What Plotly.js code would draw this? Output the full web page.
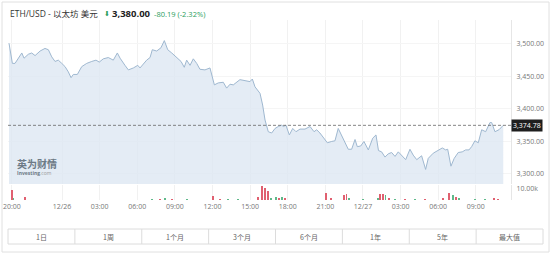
<!DOCTYPE html>
<html><head><meta charset="utf-8">
<script src="https://cdn.plot.ly/plotly-3.0.1.min.js"></script>
<style>html,body{margin:0;padding:0;background:#fff;}#chart{width:552px;height:257px;}</style>
</head><body><div id="chart"></div>
<script>
// hours relative to 2024-12-26 00:00
const priceHours = [-4.23,-3.96,-3.75,-3.48,-3.21,-3.03,-2.69,-2.42,-2.15,-1.75,-1.36,-1.09,-0.82,-0.56,-0.30,-0.02,0.24,0.50,0.72,0.90,1.22,1.57,1.97,2.37,2.71,2.97,3.29,3.69,4.09,4.41,4.63,5.02,5.29,5.69,6.04,6.22,6.48,6.75,7.02,7.20,7.55,7.89,8.16,8.43,8.75,9.15,9.49,9.75,9.94,10.21,10.47,10.74,11.00,11.40,11.80,12.15,12.46,12.86,13.13,13.40,13.66,14.19,14.59,14.99,15.18,15.39,15.79,16.00,16.19,16.45,16.72,16.99,17.25,17.52,17.65,17.86,18.13,18.40,18.66,18.98,19.38,19.78,20.10,20.31,20.57,20.89,21.16,21.51,21.77,22.03,22.30,22.57,22.83,23.10,23.37,23.55,23.82,24.08,24.43,24.78,25.04,25.24,25.49,25.76,26.02,26.29,26.56,26.82,27.14,27.41,27.75,28.01,28.29,28.68,29.00,29.21,29.61,30.01,30.33,30.60,30.76,31.02,31.28,31.60,31.92,32.19,32.46,32.67,32.93,33.20,33.47,33.79,34.13,34.27,34.53,34.85,35.19];
const prices = [3501,3470,3470,3478,3486,3478,3484,3486,3482,3489,3493,3491,3480,3473,3475,3470,3465,3457,3448,3453,3453,3465,3470,3473,3475,3472,3477,3479,3475,3486,3478,3467,3460,3463,3467,3463,3469,3475,3479,3491,3489,3494,3505,3491,3486,3479,3473,3464,3475,3467,3477,3470,3461,3460,3463,3437,3440,3441,3432,3438,3437,3445,3443,3442,3446,3434,3424,3406,3383,3365,3363,3370,3373,3375,3373,3375,3360,3370,3365,3369,3369,3373,3365,3368,3363,3355,3348,3350,3351,3370,3360,3350,3338,3338,3353,3342,3343,3350,3337,3355,3360,3336,3334,3326,3331,3333,3327,3334,3327,3322,3338,3329,3322,3328,3307,3324,3332,3337,3340,3337,3338,3312,3324,3333,3334,3337,3337,3342,3351,3348,3368,3365,3379,3379,3365,3368,3374.78];

const volHours = [-4.01,-3.88,-2.95,7.18,7.81,8.21,8.77,9.97,12.04,12.6,13.24,14.04,15.63,15.95,16.19,16.43,16.67,17.07,17.3,17.54,17.78,21.05,21.45,22.49,22.69,22.89,24.0,25.2,25.36,25.6,25.8,26.08,26.56,27.35,28.15,28.95,30.38,30.86,31.18,31.42,31.66,32.93,33.73,34.45,34.77];
const volumes = [8.3,2,2.5,1,1,1.5,1,0.8,3.3,1,0.8,0.8,2.5,12,10,8,2,2.5,2,3,2,6,1.5,4,5,2,1,1.5,5,5.5,4,2,1,1,1,1,1.5,6,4,3,2,1,1,1.5,1];
const volUp = [0,1,0,1,0,1,0,1,0,0,1,1,0,0,0,0,1,1,0,1,0,0,0,0,0,1,1,1,0,0,1,0,1,0,1,0,0,0,1,0,1,1,1,0,0];

const tickHours = [-4,0,3,6,9,12,15,18,21,24,27,30,33,36];
const tickLabels = ['20:00','12/26','03:00','06:00','09:00','12:00','15:00','18:00','21:00','12/27','03:00','06:00','09:00','12:00'];
const priceTicks = [3300,3350,3400,3450,3500];
const lastPrice = 3374.78;

const title = 'ETH/USD - 以太坊 美元';
const bigPrice = '3,380.00';
const change = '-80.19 (-2.32%)';
const periods = ['1日','1周','1个月','3个月','6个月','1年','5年','最大值'];

const W=552,H=257;
const px = x => x/W, py = y => 1 - y/H;
const FONT = 'Open Sans, Noto Sans CJK SC, sans-serif';

const traces = [
 {x: priceHours, y: prices, type:'scatter', mode:'lines', fill:'tozeroy',
  line:{color:'#9fb8d0', width:1}, fillcolor:'rgba(219,230,241,0.75)', xaxis:'x', yaxis:'y', hoverinfo:'skip'},
 {x: volHours, y: volumes, type:'bar', width:0.12,
  marker:{color: volUp.map(u=>u?'#5fb98a':'#e06070')}, xaxis:'x2', yaxis:'y2', hoverinfo:'skip'}
];

const shapes = [
 {type:'rect', xref:'paper', yref:'paper', x0:px(2), x1:px(549), y0:py(252), y1:py(2),
  line:{color:'#e0e0e0', width:1}, fillcolor:'rgba(0,0,0,0)', layer:'below'},
 {type:'line', xref:'paper', yref:'y', x0:px(8), x1:px(511), y0:lastPrice, y1:lastPrice,
  line:{color:'#666', width:0.8, dash:'3px,2px'}},
 {type:'rect', xref:'paper', yref:'paper', x0:px(8), x1:px(543), y0:py(244), y1:py(229),
  line:{color:'#dcdcdc', width:1}}
];
for (let i=1;i<8;i++){
  const xx = 8 + i*(535/8);
  shapes.push({type:'line', xref:'paper', yref:'paper', x0:px(xx), x1:px(xx), y0:py(244), y1:py(229), line:{color:'#dcdcdc', width:1}});
}

const annotations = [
 {xref:'paper', yref:'paper', x:px(8), y:py(13), xanchor:'left', yanchor:'middle', showarrow:false,
  text:title, font:{family:FONT, size:8.5, color:'#333'}},
 {xref:'paper', yref:'paper', x:px(102), y:py(13.5), xanchor:'left', yanchor:'middle', showarrow:false,
  text:'⬇', font:{family:'DejaVu Sans', size:7, color:'#2a9d5c'}},
 {xref:'paper', yref:'paper', x:px(110), y:py(13), xanchor:'left', yanchor:'middle', showarrow:false,
  text:'<b>'+bigPrice+'</b>', font:{family:FONT, size:9.5, color:'#222'}},
 {xref:'paper', yref:'paper', x:px(152), y:py(13.5), xanchor:'left', yanchor:'middle', showarrow:false,
  text:change, font:{family:FONT, size:7.5, color:'#2a9d5c'}},
 {xref:'paper', yref:'y', x:px(511), y:lastPrice, xanchor:'left', yanchor:'middle', showarrow:false,
  text:'3,374.78', bgcolor:'#1e1e1e', borderpad:1, font:{family:FONT, size:7, color:'#fff'}},
 {xref:'paper', yref:'paper', x:px(15), y:py(163), xanchor:'left', yanchor:'middle', showarrow:false,
  text:'<b>英为财情</b>', font:{family:'Noto Sans CJK SC', size:10, color:'#6d7a86'}},
 {xref:'paper', yref:'paper', x:px(15), y:py(173), xanchor:'left', yanchor:'middle', showarrow:false,
  text:'<b>Investing</b><span style="color:#999">.com</span>', font:{family:FONT, size:5, color:'#6d7a86'}}
];
periods.forEach((p,i)=>{
  annotations.push({xref:'paper', yref:'paper', x:px(8 + (i+0.5)*(535/8)), y:py(236.5), xanchor:'center', yanchor:'middle',
   showarrow:false, text:p, font:{family:'Noto Sans CJK SC', size:7, color:'#666'}});
});

const xr = [-4.31, 35.81];
const layout = {
 width:W, height:H, margin:{l:0,r:0,t:0,b:0}, paper_bgcolor:'#fff', plot_bgcolor:'#fff',
 showlegend:false, font:{family:FONT, size:7, color:'#777'},
 xaxis:{domain:[px(8), px(511)], range:xr, anchor:'y', tickmode:'array', tickvals:tickHours, showticklabels:false,
   showgrid:true, gridcolor:'#f1f1f1', gridwidth:1, zeroline:false, showline:false},
 yaxis:{domain:[py(184), py(20)], range:[3284.6, 3536.7], side:'right', anchor:'x', tickmode:'array', tickvals:priceTicks,
   tickformat:',.2f', showgrid:true, gridcolor:'#f5f5f5', zeroline:false, showline:true, linecolor:'#e6e6e6',
   ticks:'', ticklabelstandoff:3, tickfont:{family:FONT, size:7, color:'#777'}},
 xaxis2:{domain:[px(8), px(511)], range:xr, anchor:'y2', tickmode:'array', tickvals:tickHours, ticktext:tickLabels,
   showgrid:true, gridcolor:'#f1f1f1', zeroline:false, showline:false, ticks:'',
   tickfont:{family:FONT, size:7, color:'#777'}, ticklabelstandoff:1},
 yaxis2:{domain:[py(200), py(185)], range:[0,13], side:'right', anchor:'x2', tickmode:'array', tickvals:[10], ticktext:['10.00k'],
   showgrid:false, zeroline:false, showline:true, linecolor:'#e6e6e6', ticks:'', ticklabelstandoff:3,
   tickfont:{family:FONT, size:7, color:'#777'}},
 bargap:0, shapes:shapes, annotations:annotations
};
Plotly.newPlot('chart', traces, layout, {staticPlot:true, displayModeBar:false});
</script></body></html>
